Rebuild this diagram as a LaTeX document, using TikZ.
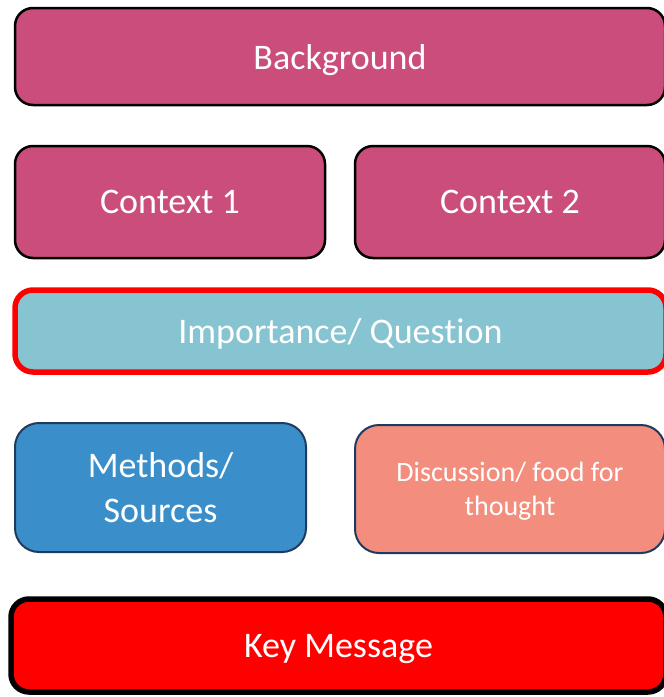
\documentclass[tikz,border=0pt]{standalone}
\usepackage{fontspec}
\setmainfont{Carlito}[Ligatures=NoCommon]
\usepackage{tikz}
\usetikzlibrary{positioning}
\usepackage{xcolor}
\definecolor{boxpink}{HTML}{CB4D7B}
\definecolor{boxteal}{HTML}{86C4D1}
\definecolor{boxblue}{HTML}{3A8FCA}
\definecolor{boxsalmon}{HTML}{F38E7F}
\definecolor{boxnavy}{HTML}{1F3A5F}

\tikzset{
    panel/.style={rectangle, rounded corners=18pt, text=white, align=center,
        font=\fontsize{36}{45}\selectfont, inner sep=0pt, text depth=0pt},
    pinkpanel/.style={panel, fill=boxpink, draw=black, line width=2.5pt},
    bluepanel/.style={panel, draw=boxnavy, line width=2pt}
}

\begin{document}
\begin{tikzpicture}[x=1pt, y=-1pt]
    % Define the page
    \useasboundingbox (0,0) rectangle (664,697);
    \clip (0,0) rectangle (664,697);

    % Top rows
    \node[pinkpanel, minimum width=650pt, minimum height=97pt] (background) at (340,56.5) {Background};
    \node[pinkpanel, minimum width=310pt, minimum height=112pt] (context1) at (170,202) {Context 1};
    \node[pinkpanel, minimum width=310pt, minimum height=112pt] (context2) at (510,202) {Context 2};

    % Question
    \node[panel, fill=boxteal, draw=red, line width=5.5pt, minimum width=651pt, minimum height=82pt] (question) at (340.5,331) {Importance/ Question};

    % Methods and discussion
    \node[bluepanel, fill=boxblue, rounded corners=24pt, minimum width=291pt, minimum height=129pt] (methods) at (160.5,487.5) {Methods/\\Sources};
    \node[bluepanel, fill=boxsalmon, rounded corners=24pt, minimum width=310pt, minimum height=128pt, font=\fontsize{28}{34}\selectfont] (discussion) at (510,489) {Discussion/ food for\\thought};

    % Key message
    \node[panel, fill=red, draw=black, line width=5.5pt, minimum width=655pt, minimum height=93pt] (keymsg) at (338.5,645.5) {Key Message};
\end{tikzpicture}
\end{document}
